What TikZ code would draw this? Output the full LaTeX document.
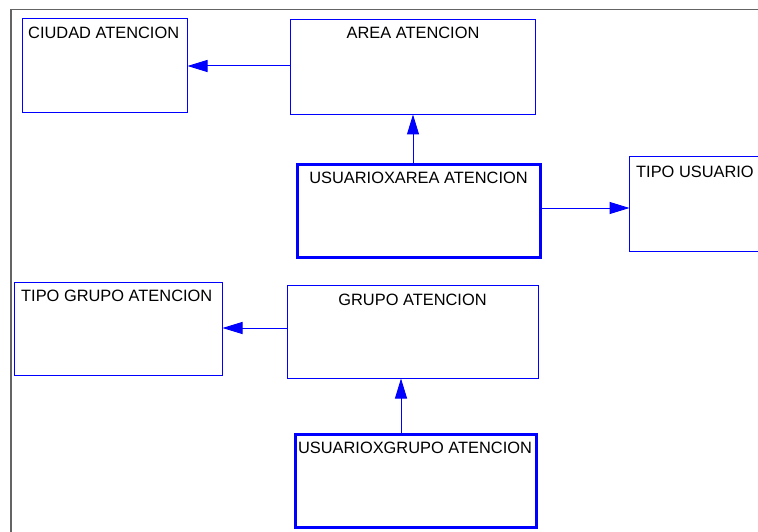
\documentclass[tikz,border=0pt]{standalone}
\usepackage{fontspec}
\setmainfont{Liberation Sans}
\usetikzlibrary{arrows.meta}
\definecolor{entblue}{RGB}{0,0,255}
\definecolor{framegray}{RGB}{100,100,100}
\tikzset{
  entity/.style={draw=entblue, line width=1pt, fill=white, anchor=north west, inner sep=0pt, outer sep=0pt},
  keyentity/.style={entity, line width=3pt},
  lbl/.style={font=\fontsize{16.4}{19}\selectfont, inner sep=0pt, text=black},
  rel/.style={draw=entblue, line width=1pt, -{Triangle[length=20pt,width=12pt]}},
}
\begin{document}
\begin{tikzpicture}[x=1pt,y=-1pt]
\useasboundingbox (0,0) rectangle (758,532);
\fill[white] (0,0) rectangle (758,532);
% sheet frame
\draw[framegray, line width=1.5pt] (11,532) -- (11,9.5) -- (758,9.5);

% entities
\node[entity, minimum width=165pt, minimum height=94pt] (ciudad) at (22.5,18.5) {};
\node[entity, minimum width=245pt, minimum height=95pt] (area) at (290.5,19.5) {};
\node[keyentity, minimum width=243pt, minimum height=93pt] (uxa) at (297.5,164.5) {};
\node[entity, minimum width=150pt, minimum height=95pt] (tipousr) at (629.5,156.5) {};
\node[entity, minimum width=208pt, minimum height=93pt] (tipogrp) at (14.5,282.5) {};
\node[entity, minimum width=251pt, minimum height=93pt] (grupo) at (287.5,285.5) {};
\node[keyentity, minimum width=241pt, minimum height=93pt] (uxg) at (295.5,434.5) {};

% entity names
\node[lbl, anchor=base west] (tciudad) at (28,38.5) {CIUDAD ATENCION};
\node[lbl, anchor=base] (tarea) at (413,39) {AREA ATENCION};
\node[lbl, anchor=base] (tuxa) at (418.5,183.5) {USUARIOXAREA ATENCION};
\node[lbl, anchor=base west] (ttipousr) at (636,177.5) {TIPO USUARIO};
\node[lbl, anchor=base west] (ttipogrp) at (21,301.5) {TIPO GRUPO ATENCION};
\node[lbl, anchor=base] (tgrupo) at (412.5,305) {GRUPO ATENCION};
\node[lbl, anchor=base] (tuxg) at (415,453) {USUARIOXGRUPO ATENCION};

% relationships
\draw[rel] (area.west |- 0,66) -- (ciudad.east |- 0,66);
\draw[rel] (uxa.north -| 413,0) -- (area.south -| 413,0);
\draw[rel] (uxa.east |- 0,208) -- (tipousr.west |- 0,208);
\draw[rel] (grupo.west |- 0,328) -- (tipogrp.east |- 0,328);
\draw[rel] (uxg.north -| 401,0) -- (grupo.south -| 401,0);
\end{tikzpicture}
\end{document}
